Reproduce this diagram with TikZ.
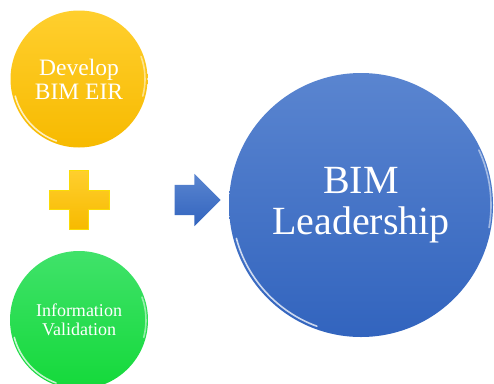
\documentclass[tikz,border=0pt]{standalone}
\usepackage{fontspec}
\setmainfont{Liberation Serif}
\usetikzlibrary{shapes.arrows,shadings}

\definecolor{eirTop}{HTML}{FFCF2E}
\definecolor{eirBot}{HTML}{F7BA00}
\definecolor{valTop}{HTML}{40E26A}
\definecolor{valBot}{HTML}{14D93A}
\definecolor{leadTop}{HTML}{5A85D0}
\definecolor{leadBot}{HTML}{3264BE}

\begin{document}
\begin{tikzpicture}[x=1pt, y=-1pt,
		bubble/.style={circle, inner sep=0pt, text=white, align=center},
		rim/.style={white, line width=1.6pt, opacity=0.75, line cap=round}
	]
		\useasboundingbox (0,0) rectangle (494,383);

		% the three bubbles
		\node[bubble, minimum size=137pt, top color=eirTop, bottom color=eirBot,
			font=\fontsize{23.5}{24}\selectfont] (eir) at (79,79) {Develop\\BIM EIR};
		\node[bubble, minimum size=138pt, top color=valTop, bottom color=valBot,
			font=\fontsize{18}{19}\selectfont] (val) at (79,320) {Information\\Validation};
		\node[bubble, minimum size=264pt, top color=leadTop, bottom color=leadBot,
			font=\fontsize{40}{41}\selectfont] (lead) at (361,205) {BIM\\Leadership};

		% glossy rims
		\draw[rim] ([shift={(195:66pt)}]eir.center) arc[start angle=195, end angle=250, radius=66pt];
		\draw[rim, opacity=0.5] ([shift={(20:66pt)}]eir.center) arc[start angle=20, end angle=-15, radius=66pt];
		\draw[rim] ([shift={(195:67pt)}]val.center) arc[start angle=195, end angle=250, radius=67pt];
		\draw[rim, opacity=0.5] ([shift={(20:67pt)}]val.center) arc[start angle=20, end angle=-15, radius=67pt];
		\draw[rim] ([shift={(195:129pt)}]lead.center) arc[start angle=195, end angle=250, radius=129pt];
		\draw[rim, opacity=0.5] ([shift={(25:130pt)}]lead.center) arc[start angle=25, end angle=-10, radius=130pt];

		% plus sign
		\fill[top color=eirTop, bottom color=eirBot, draw=yellow!60!eirBot, line width=0.6pt]
			(69.5,170) -- (88.5,170) -- (88.5,190.5) -- (109,190.5) -- (109,209.5) -- (88.5,209.5)
			-- (88.5,229) -- (69.5,229) -- (69.5,209.5) -- (49,209.5) -- (49,190.5) -- (69.5,190.5) -- cycle;

		% arrow
		\node[single arrow, minimum height=46pt, minimum width=52pt, single arrow head extend=11pt,
			single arrow head indent=0pt, inner xsep=0pt, inner ysep=15pt,
			top color=leadTop, bottom color=leadBot] (arrow) at (190,200) {};
	\end{tikzpicture}
\end{document}
